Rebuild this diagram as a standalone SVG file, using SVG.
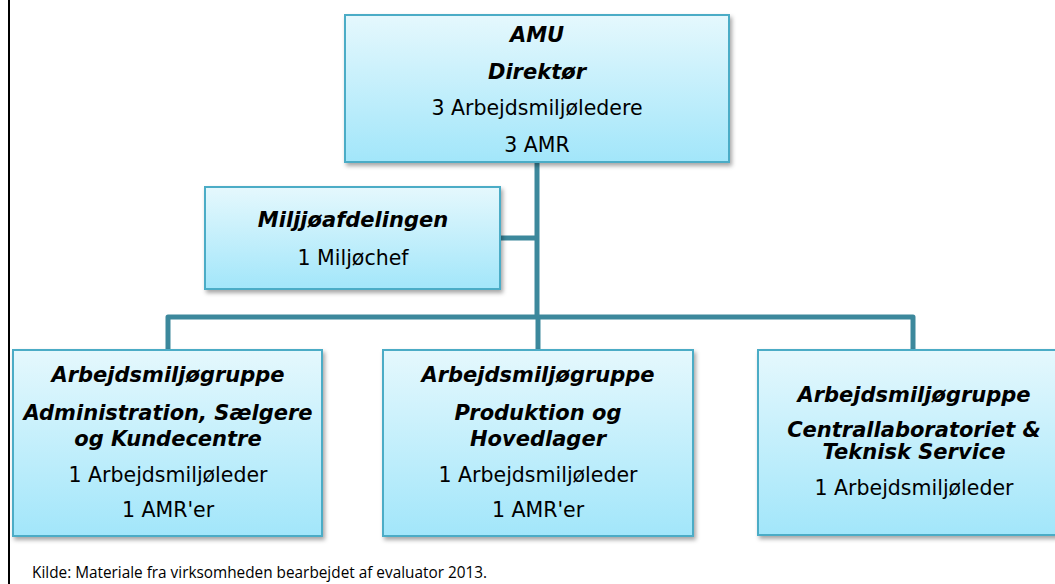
<svg xmlns="http://www.w3.org/2000/svg" width="1055" height="584" viewBox="0 0 1055 584">
  <defs>
    <linearGradient id="boxFill" x1="0" y1="0" x2="0" y2="1">
      <stop offset="0" stop-color="#E5F8FD"/>
      <stop offset="1" stop-color="#A2E6FA"/>
    </linearGradient>
    <filter id="shadow" x="-10%" y="-10%" width="125%" height="130%">
      <feDropShadow dx="2" dy="3" stdDeviation="2" flood-color="#000" flood-opacity="0.35"/>
    </filter>
  </defs>
  <style>
    .box { fill: url(#boxFill); stroke: #4BACC6; stroke-width: 2; filter: url(#shadow); }
    .hd { font-family: "DejaVu Sans", Verdana, sans-serif; font-size: 21px; font-weight: bold; font-style: italic; fill: #000; text-anchor: middle; }
    .tx { font-family: "DejaVu Sans", Tahoma, sans-serif; font-size: 20.5px; fill: #000; text-anchor: middle; }
    .link { fill: none; stroke: #3C889C; stroke-width: 5; stroke-linejoin: round; }
    .caption { font-family: "Open Sans", "Noto Sans", sans-serif; font-size: 16.5px; fill: #000; }
  </style>

  <rect width="1055" height="584" fill="#fff"/>

  <!-- frame line on the left -->
  <line x1="9" y1="0" x2="9" y2="584" stroke="#000" stroke-width="2"/>

  <!-- connectors -->
  <g id="connectors">
    <path class="link" d="M537 162 V317"/>
    <path class="link" d="M500 238 H537"/>
    <path class="link" d="M168 350 V317 H913 V350"/>
    <path class="link" d="M538 317 V350"/>
  </g>

  <!-- top node -->
  <g id="node-amu">
    <rect class="box" x="345" y="15" width="384" height="147"/>
    <text class="hd" x="537" y="42">AMU</text>
    <text class="hd" x="537" y="79">Direktør</text>
    <text class="tx" x="537" y="115">3 Arbejdsmiljøledere</text>
    <text class="tx" x="537" y="152">3 AMR</text>
  </g>

  <!-- environment department -->
  <g id="node-miljo">
    <rect class="box" x="205" y="187" width="295" height="102"/>
    <text class="hd" x="353" y="227">Miljjøafdelingen</text>
    <text class="tx" x="353" y="265">1 Miljøchef</text>
  </g>

  <!-- working environment groups -->
  <g id="node-admin">
    <rect class="box" x="13" y="350" width="309" height="186"/>
    <text class="hd" x="168" y="382">Arbejdsmiljøgruppe</text>
    <text class="hd" x="168" y="420">Administration, Sælgere</text>
    <text class="hd" x="168" y="446">og Kundecentre</text>
    <text class="tx" x="168" y="482">1 Arbejdsmiljøleder</text>
    <text class="tx" x="168" y="517">1 AMR'er</text>
  </g>

  <g id="node-produktion">
    <rect class="box" x="383" y="350" width="310" height="186"/>
    <text class="hd" x="538" y="382">Arbejdsmiljøgruppe</text>
    <text class="hd" x="538" y="420">Produktion og</text>
    <text class="hd" x="538" y="446">Hovedlager</text>
    <text class="tx" x="538" y="482">1 Arbejdsmiljøleder</text>
    <text class="tx" x="538" y="517">1 AMR'er</text>
  </g>

  <g id="node-laboratorie">
    <rect class="box" x="758" y="350" width="310" height="185"/>
    <text class="hd" x="914" y="402">Arbejdsmiljøgruppe</text>
    <text class="hd" x="914" y="437">Centrallaboratoriet &amp;</text>
    <text class="hd" x="914" y="459">Teknisk Service</text>
    <text class="tx" x="914" y="495">1 Arbejdsmiljøleder</text>
  </g>

  <!-- source note -->
  <text class="caption" x="32" y="578" textLength="455" lengthAdjust="spacingAndGlyphs">Kilde: Materiale fra virksomheden bearbejdet af evaluator 2013.</text>
</svg>
